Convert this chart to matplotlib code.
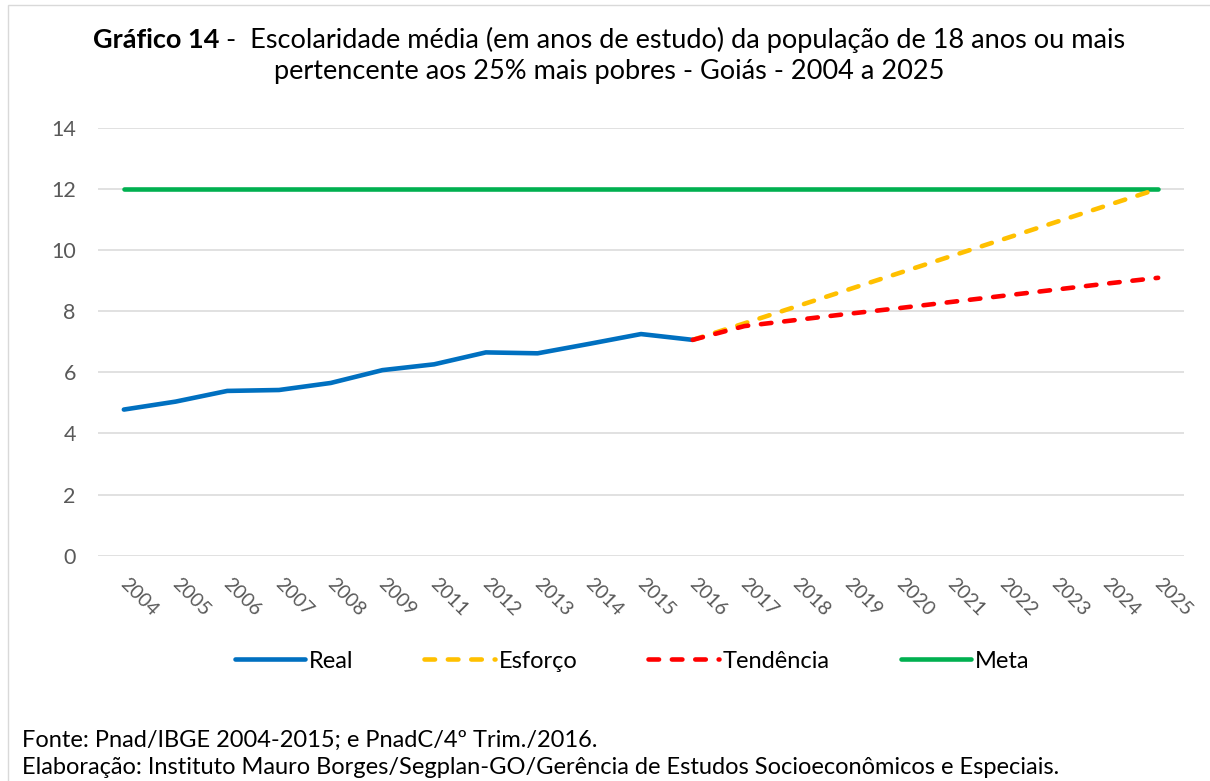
import matplotlib
matplotlib.use("Agg")
import matplotlib.pyplot as plt
from matplotlib.offsetbox import TextArea, HPacker, AnnotationBbox
from matplotlib.patches import Rectangle
from matplotlib.transforms import ScaledTranslation

plt.rcParams["font.family"] = ["Lato", "DejaVu Sans"]

anos = ["2004", "2005", "2006", "2007", "2008", "2009", "2011", "2012", "2013",
        "2014", "2015", "2016", "2017", "2018", "2019", "2020", "2021", "2022",
        "2023", "2024", "2025"]

real = [4.78, 5.04, 5.39, 5.42, 5.65, 6.07, 6.26, 6.65, 6.62, 6.93, 7.25, 7.06]
esforco = [7.06, 7.60, 8.15, 8.70, 9.25, 9.80, 10.35, 10.90, 11.45, 12.0]
tendencia = [7.06, 7.51, 7.71, 7.91, 8.10, 8.30, 8.50, 8.70, 8.90, 9.09]
meta = [12.0] * len(anos)

AZUL = "#0070C0"
AMARELO = "#FFC000"
VERMELHO = "#FF0000"
VERDE = "#00B050"
CINZA = "#595959"
GRADE = "#D9D9D9"

fig = plt.figure(figsize=(12.1, 7.81), dpi=100)
ax = fig.add_axes([98 / 1210, 1 - 555.7 / 781, (1184 - 98) / 1210, (555.7 - 127.7) / 781])

x_all = list(range(len(anos)))
i16 = anos.index("2016")
x_proj = x_all[i16:]

lw = 3.3
ax.plot(x_all, meta, color=VERDE, lw=lw, solid_capstyle="round", label="Meta", zorder=3)
ax.plot(x_proj, esforco, color=AMARELO, lw=lw, dashes=(2.3, 2.8),
        dash_capstyle="round", label="Esforço", zorder=4)
ax.plot(x_proj, tendencia, color=VERMELHO, lw=lw, dashes=(2.3, 2.8),
        dash_capstyle="round", label="Tendência", zorder=5)
ax.plot(x_all[:len(real)], real, color=AZUL, lw=lw, solid_capstyle="round",
        label="Real", zorder=4)

ax.set_xlim(-0.5, len(anos) - 0.5)
ax.set_ylim(0, 14)
ax.set_yticks(range(0, 15, 2))
ax.set_xticks(x_all)
ax.set_xticklabels([])
# rotulos do eixo x desenhados a mao (inclinados como no Excel)
offset = ScaledTranslation(-7 / 100, -19 / 100, fig.dpi_scale_trans)
for xi, ano in zip(x_all, anos):
    ax.text(xi, 0, ano, transform=ax.get_xaxis_transform() + offset,
            rotation=-45, ha="left", va="top", fontsize=14, color=CINZA)
ax.tick_params(axis="y", length=0, pad=16, labelsize=15.5, labelcolor=CINZA)
ax.tick_params(axis="x", length=0, pad=0)
ax.grid(axis="y", color=GRADE, lw=1.1)
ax.set_axisbelow(True)
for s in ax.spines.values():
    s.set_visible(False)

# legenda na ordem do original
h, l = ax.get_legend_handles_labels()
ordem = ["Real", "Esforço", "Tendência", "Meta"]
hh = [h[l.index(n)] for n in ordem]
fig.legend(hh, ordem, loc="center", bbox_to_anchor=(632 / 1210, 1 - 661 / 781),
           ncol=4, frameon=False, fontsize=17, handlelength=3.0,
           handletextpad=0.15, columnspacing=3.0)

# titulo com parte em negrito
tam = 19.5
bold = TextArea("Gráfico 14", textprops=dict(fontsize=tam, fontweight="bold", color="black"))
reg = TextArea(" -  Escolaridade média (em anos de estudo) da população de 18 anos ou mais",
               textprops=dict(fontsize=tam, color="black"))
linha1 = HPacker(children=[bold, reg], align="baseline", pad=0, sep=0)
fig.add_artist(AnnotationBbox(linha1, (609 / 1210, 1 - 40 / 781), xycoords="figure fraction",
                              box_alignment=(0.5, 0.5), frameon=False))
fig.text(609 / 1210, 1 - 72 / 781, "pertencente aos 25% mais pobres - Goiás - 2004 a 2025",
         fontsize=tam, ha="center", va="center")

fig.text(22 / 1210, 1 - 740 / 781, "Fonte: Pnad/IBGE 2004-2015; e PnadC/4º Trim./2016.",
         fontsize=17, va="center")
fig.text(22 / 1210, 1 - 768 / 781,
         "Elaboração: Instituto Mauro Borges/Segplan-GO/Gerência de Estudos Socioeconômicos e Especiais.",
         fontsize=17, va="center")

fig.patches.append(Rectangle((8 / 1210, -0.05), 1.1, 1 - 5 / 781 + 0.05,
                             transform=fig.transFigure, fill=False, edgecolor=GRADE, lw=1))

fig.savefig("out.png", dpi=100)
